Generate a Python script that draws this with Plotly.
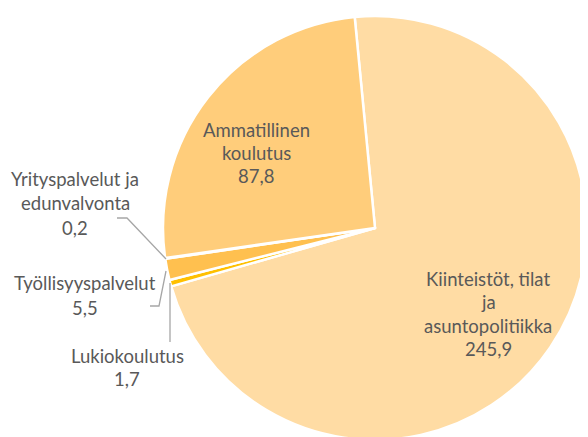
import plotly.graph_objects as go

# Data
categories = ["Kiinteistöt, tilat ja asuntopolitiikka", "Lukiokoulutus", "Työllisyyspalvelut",
              "Yrityspalvelut ja edunvalvonta", "Ammatillinen koulutus"]
values = [245.9, 1.7, 5.5, 0.2, 87.8]
label_lines = [["Kiinteistöt, tilat", "ja", "asuntopolitiikka"],
               ["Lukiokoulutus"],
               ["Työllisyyspalvelut"],
               ["Yrityspalvelut ja", "edunvalvonta"],
               ["Ammatillinen", "koulutus"]]
colors = ["#FFDCA4", "#FFC000", "#FFC04F", "#FFB020", "#FFCD7B"]

W, H = 588, 437
OFF = 8  # page body margin

def px(x, y):
    return (x - OFF) / W, 1 - (y - OFF) / H

cx0, cy0, R = 375, 228, 212
fig = go.Figure()
fig.add_trace(go.Pie(
    labels=categories, values=values, sort=False, direction="clockwise",
    rotation=-5.5, textinfo="none", textposition="inside", hoverinfo="label+value",
    marker=dict(colors=colors, line=dict(color="white", width=2.5)),
    domain=dict(x=[px(cx0 - R, 0)[0], px(cx0 + R, 0)[0]],
                y=[px(0, cy0 + R)[1], px(0, cy0 - R)[1]]),
    showlegend=False,
))

def fmt(v):
    return f"{v:.1f}".replace(".", ",")

# label placement (center x, first line y, spacing)
label_pos = {
    0: (488, 279, 23.3),
    1: (127, 356, 23),
    2: (85, 283, 25),
    3: (75, 179, 24.3),
    4: (256, 130, 23),
}
FONT = dict(family="Lato, Carlito, sans-serif", size=18.5, color="#595959")
for i, (cx, y0, dy) in label_pos.items():
    lines = label_lines[i] + [fmt(values[i])]
    for k, t in enumerate(lines):
        ax, ay = px(cx, y0 + k * dy)
        fig.add_annotation(x=ax, y=ay, xref="paper", yref="paper", text=t,
                           showarrow=False, xanchor="center", yanchor="middle", font=FONT)

# leader lines
leader_paths = [
    [(117, 218), (127, 218), (166, 259)],
    [(150, 306), (159, 306), (166, 271)],
    [(170, 283), (170, 342)],
]
for pts in leader_paths:
    d = "M " + " L ".join(f"{px(x, y)[0]} {px(x, y)[1]}" for x, y in pts)
    fig.add_shape(type="path", path=d, xref="paper", yref="paper",
                  line=dict(color="#A6A6A6", width=1.3))

fig.update_layout(width=W, height=H, margin=dict(l=0, r=0, t=0, b=0),
                  paper_bgcolor="white", plot_bgcolor="white")
fig.write_html("out.html")
